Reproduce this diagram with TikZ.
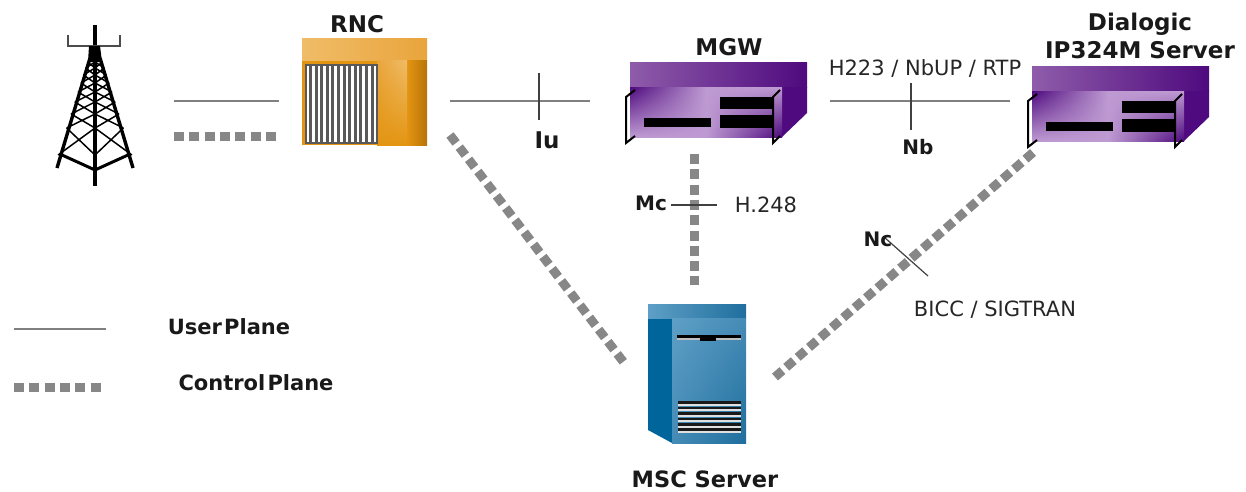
\documentclass[tikz,border=0pt]{standalone}
\usepackage{fontspec}
\usetikzlibrary{shadings}
\setmainfont{DejaVu Sans}
\newfontfamily\legendfont[WordSpace=0.3]{DejaVu Sans}
\begin{document}
\begin{tikzpicture}[x=1pt,y=-1pt,
  userline/.style={draw=black!50,line width=1.2pt},
  ctrlline/.style={draw=black!47,line width=9pt,dash pattern=on 10pt off 5.3pt},
  ctrllineb/.style={ctrlline,dash pattern=on 10pt off 5.1pt},
  tick/.style={draw=black!75,line width=1.2pt},
  lab/.style={font=\fontsize{23}{28}\selectfont\bfseries,text=black!90,inner sep=0pt},
  labs/.style={font=\fontsize{20}{24}\selectfont\bfseries,text=black!90,inner sep=0pt},
  legendlab/.style={font=\legendfont\fontsize{21}{24}\selectfont\bfseries,text=black!90,inner sep=0pt},
  note/.style={font=\fontsize{21}{24}\selectfont,text=black!85,inner sep=0pt},
  bar/.style={fill=black,draw=none},
  towerl/.style={draw=black,line width=1.5pt},
]
\definecolor{pD}{HTML}{4E0A7E}
\definecolor{pM}{HTML}{7B3F9B}
\definecolor{pL}{HTML}{BE9AD2}
\definecolor{oA}{HTML}{F0BC68}
\definecolor{oB}{HTML}{E9A53C}
\definecolor{oC}{HTML}{E39512}
\definecolor{oD}{HTML}{B87408}
\definecolor{bA}{HTML}{5E9FC6}
\definecolor{bB}{HTML}{1F6E9E}
\definecolor{bC}{HTML}{00659B}
\useasboundingbox (0,0) rectangle (1246,491);

% ---- tower
\begin{scope}
\draw[line width=3.6pt] (95,25) -- (95,186);
\draw[line width=2pt,black!70] (68,35) -- (68,46) -- (120,46) -- (120,35);
\fill (89,46) -- (100,46) -- (102,62) -- (88,62) -- cycle;
\draw[line width=3.4pt,line join=round] (57,168) -- (90,58) (133,168) -- (100,58);
\draw[line width=3pt] (62,155) -- (95,170) -- (128,155);
\foreach \a/\b in {62/68,68/75,75/83,83/92,92/102,102/114,114/128,128/155}{
  \pgfmathsetmacro{\wa}{3+(\a-48)*0.317}
  \pgfmathsetmacro{\wb}{3+(\b-48)*0.317}
  \draw[towerl] ({95-\wa},\a) -- (95,\b) (95,\a) -- ({95-\wb},\b)
                ({95+\wa},\a) -- (95,\b) (95,\a) -- ({95+\wb},\b);
}
\end{scope}

% ---- RNC
\fill[oC] (302,38) rectangle (427,145);
\shade[left color=oA,right color=oB] (302,38) rectangle (427,60);
\shade[left color=oC,right color=oD] (407,60) rectangle (427,145);
\shade[lower left=oC,upper right=oA,lower right=oC,upper left=oB] (377,60) rectangle (407,145);
\fill[white] (306,64) rectangle (377,143);
\foreach \i in {0,...,11}{\fill[black!65] ({309+\i*5.6},65) rectangle ({312+\i*5.6},142);}
\draw[black!65,line width=1.5pt] (306,65) rectangle (377,143);
\node[lab] (rnc) at (357,24) {RNC};

% ---- MGW units
\newcommand{\mediagw}[2]{%
\begin{scope}[shift={(#1,#2)}]
\shade[left color=pM!85!white,right color=pD] (630,62) rectangle (807,87);
\fill[pD] (782,87) -- (807,87) -- (807,113) -- (782,137) -- cycle;
\shade[upper left=pD,upper right=pL,lower left=pL,lower right=pL] (630,87) rectangle (706,137);
\shade[upper left=pL,upper right=pL,lower left=pL,lower right=pD] (706,87) rectangle (782,137);
\fill[bar] (644,118) rectangle (711,127);
\fill[bar] (720,97) rectangle (772,109);
\fill[bar] (720,115) rectangle (772,128);
\draw[black,line width=2pt] (635,90) -- (626,97) -- (626,143) -- (635,136);
\draw[black,line width=2pt] (780,90) -- (773,97) -- (773,143) -- (780,136);
\end{scope}}
\mediagw{0}{0}
\mediagw{402}{4}
\node[lab] (mgw) at (729,47) {MGW};
\node[lab,align=center] (ip) at (1140,36) {Dialogic\\IP324M Server};

% ---- MSC
\begin{scope}
\fill[bC] (648,318) -- (672,318) -- (672,443) -- (648,430) -- cycle;
\shade[left color=bA,right color=bB] (648,304) rectangle (746,318);
\shade[upper left=bA,upper right=bA!60!bB,lower left=bA!60!bB,lower right=bB] (672,318) rectangle (746,443);
\fill[black!25] (677,338) rectangle (741,340);
\fill[black] (677,335) rectangle (741,338);
\fill[black] (700,338) rectangle (716,341);
\foreach \y in {401,406.5,412,417.5,423,428}{\fill[black!12] (678,{\y+2.5}) rectangle (741,{\y+4.5}); \fill[black!90] (678,\y) rectangle (741,{\y+2.5});}
\end{scope}
\node[lab,font=\fontsize{22.5}{26}\selectfont\bfseries] (msc) at (705,479) {MSC Server};

% ---- connector ends
\coordinate (a1) at (174,101); \coordinate (a2) at (279,101);
\coordinate (b1) at (174,136); \coordinate (b2) at (277,136);
\coordinate (c1) at (450,101); \coordinate (c2) at (590,101);
\coordinate (c3) at (539,73);  \coordinate (c4) at (539,120);
\coordinate (d1) at (830,101); \coordinate (d2) at (1010,101);
\coordinate (d3) at (911,83);  \coordinate (d4) at (911,130);
\coordinate (e1) at (450,135); \coordinate (e2) at (625,364);
\coordinate (f1) at (694,154); \coordinate (f2) at (694,285);
\coordinate (f3) at (671,205); \coordinate (f4) at (717,205);
\coordinate (g1) at (1033,152.5); \coordinate (g2) at (775,377);
\coordinate (g3) at (884,237); \coordinate (g4) at (928,276);
\coordinate (h1) at (14,329); \coordinate (h2) at (106,329);
\coordinate (i1) at (14,387); \coordinate (i2) at (101,387);

\draw[userline] (a1) -- (a2);
\draw[ctrlline] (b1) -- (b2);
\draw[userline] (c1) -- (c2);
\draw[tick] (c3) -- (c4);
\draw[userline] (d1) -- (d2);
\draw[tick] (d3) -- (d4);
\draw[ctrlline] (e1) -- (e2);
\draw[ctrlline] (f1) -- (f2);
\draw[tick] (f3) -- (f4);
\draw[ctrllineb] (g1) -- (g2);
\draw[tick] (g3) -- (g4);
\draw[userline] (h1) -- (h2);
\draw[ctrlline] (i1) -- (i2);

% ---- labels
\node[lab] (iu) at (547,140) {Iu};
\node[labs] (nb) at (918,147) {Nb};
\node[labs] (mc) at (651,203) {Mc};
\node[note] (h248) at (766,205) {H.248};
\node[labs] (nc) at (878,239) {Nc};
\node[note] (h223) at (925,68) {H223 / NbUP / RTP};
\node[note] (bicc) at (995,310) {BICC / SIGTRAN};
\node[legendlab] (up) at (229,327) {User Plane};
\node[legendlab] (cp) at (256,383) {Control Plane};
\end{tikzpicture}
\end{document}
